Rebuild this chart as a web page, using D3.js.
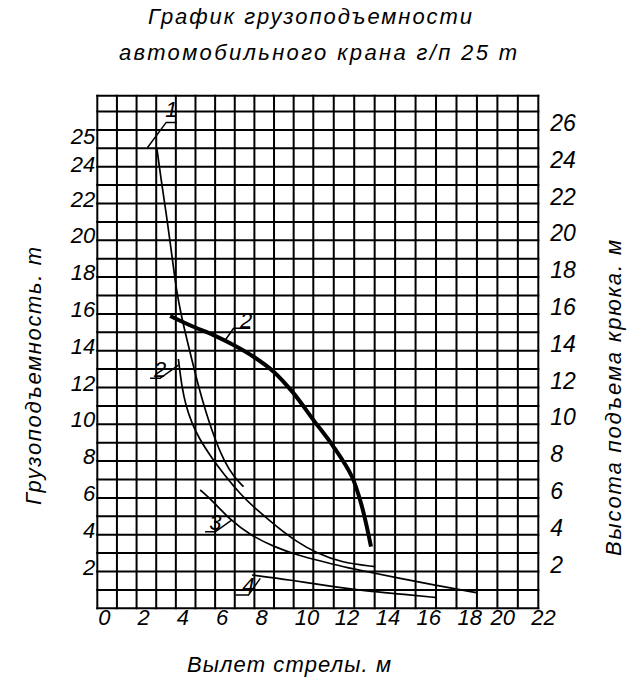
<!DOCTYPE html>
<html>
<head>
<meta charset="utf-8">
<script src="https://cdn.jsdelivr.net/npm/d3@7"></script>
<style>
  html, body { margin: 0; padding: 0; background: #fff; }
  svg { display: block; }
  text { font-family: "Liberation Sans", "DejaVu Sans", sans-serif; font-style: italic; fill: #000; }
</style>
</head>
<body>
<svg id="chart" width="636" height="685"></svg>
<script>
// ---------- data ----------
const titleLines = ["График грузоподъемности", "автомобильного крана г/п 25 т"];
const xTitle = "Вылет стрелы. м";
const yLeftTitle = "Грузоподъемность. т";
const yRightTitle = "Высота подъема крюка. м";

const xTicks = [0, 2, 4, 6, 8, 10, 12, 14, 16, 18, 20, 22];
const leftTicks = [2, 4, 6, 8, 10, 12, 14, 16, 18, 20, 22, 24, 25];
const rightTicks = [2, 4, 6, 8, 10, 12, 14, 16, 18, 20, 22, 24, 26];

const xMax = 22;
const yMax = 27.86;

// curve 1 – load capacity (thin)
const curve1 = [[3.03,25.03],[3.25,23.28],[3.51,21.47],[3.74,19.65],[3.96,17.84],[4.12,16.76],
  [4.33,15.67],[4.57,14.58],[4.82,13.49],[5.07,12.41],[5.35,11.32],[5.66,10.23],[6.01,9.15],
  [6.43,8.06],[6.94,7.15],[7.45,6.61]];
// curve 2 – load capacity (thin)
const curve2 = [[4.13,13.55],[4.18,13.10],[4.30,12.10],[4.50,11.05],[4.80,10.10],[5.20,9.20],
  [5.75,8.30],[6.43,7.30],[7.28,6.20],[8.13,5.34],[9.15,4.43],[10.17,3.60],[11.17,3.00],
  [12.32,2.50],[14.03,2.26]];
// curve 3 – load capacity (thin)
const curve3 = [[5.24,6.43],[5.92,5.79],[6.77,4.80],[7.79,3.98],[8.98,3.35],[10.17,2.90],
  [11.50,2.53],[12.81,2.17],[13.63,1.99],[15.25,1.63],[16.88,1.27],[18.97,0.85]];
// curve 4 – load capacity (thin)
const curve4 = [[7.88,1.81],[9.83,1.54],[11.99,1.17],[13.63,0.94],[15.25,0.78],[17.05,0.58]];
// hook height curve (thick)
const hookHeight = [[3.71,15.89],[4.90,15.30],[5.92,14.85],[6.94,14.31],[7.96,13.67],[8.98,12.86],
  [10.0,11.68],[11.01,10.23],[11.99,8.78],[12.89,7.15],[13.38,5.52],[13.82,3.35]];

// callouts: text, text anchor point, leader polyline
const calloutText = ["1", "2", "2", "3", "4"];
const calloutPos = [[4.08,26.68],[3.20,12.57],[7.58,15.23],[6.01,4.26],[7.69,0.83]];
const calloutLeader = [
  [[2.55,25.03],[3.51,26.41],[4.05,26.41]],
  [[2.69,12.50],[3.20,12.50],[4.13,13.22]],
  [[7.79,15.22],[6.94,15.22],[6.52,14.58]],
  [[5.49,4.16],[6.01,4.16],[6.86,4.80]],
  [[7.03,0.72],[7.70,0.72],[8.30,1.63]]
];
const calloutAnchor = ["end", "middle", "middle", "middle", "middle"];

// ---------- scales ----------
const svg = d3.select("#chart");
const x = d3.scaleLinear().domain([0, 11, xMax]).range([97.3, 313.3, 538.3]);
const y = d3.scaleLinear().domain([0, yMax]).range([608.3, 95.7]);

// ---------- grid ----------
const grid = svg.append("g").attr("stroke", "#000").attr("stroke-width", 2);
const hLines = d3.range(0, Math.floor(yMax) + 1).concat([yMax]);
const vLines = d3.range(0, xMax + 1);
grid.selectAll("line.h").data(hLines).join("line").attr("class", "h")
  .attr("x1", x(0) - 1).attr("x2", x(xMax) + 1)
  .attr("y1", d => y(d)).attr("y2", d => y(d));
grid.selectAll("line.v").data(vLines).join("line").attr("class", "v")
  .attr("y1", y(0) + 1).attr("y2", y(yMax) - 1)
  .attr("x1", d => x(d)).attr("x2", d => x(d));

// ---------- curves ----------
const line = d3.line().x(d => x(d[0])).y(d => y(d[1])).curve(d3.curveBasis);
const thinCurves = [curve1, curve2, curve3, curve4];
svg.append("g").selectAll("path").data(thinCurves).join("path")
  .attr("d", line).attr("fill", "none").attr("stroke", "#000").attr("stroke-width", 1.7);
svg.append("path").datum(hookHeight)
  .attr("d", d3.line().x(d => x(d[0])).y(d => y(d[1])).curve(d3.curveCatmullRom.alpha(0.5)))
  .attr("fill", "none").attr("stroke", "#000").attr("stroke-width", 4).attr("stroke-linecap", "butt");

// ---------- callouts ----------
const leaderLine = d3.line().x(d => x(d[0])).y(d => y(d[1]));
svg.append("g").selectAll("path").data(calloutLeader).join("path")
  .attr("d", leaderLine).attr("fill", "none").attr("stroke", "#000").attr("stroke-width", 1.5);
svg.append("g").selectAll("text").data(calloutText).join("text")
  .attr("x", (d, i) => x(calloutPos[i][0]))
  .attr("y", (d, i) => y(calloutPos[i][1]))
  .attr("text-anchor", (d, i) => calloutAnchor[i])
  .attr("font-size", 22)
  .text(d => d);

// ---------- tick labels ----------
svg.append("g").selectAll("text").data(leftTicks).join("text")
  .attr("x", x(0) - 2)
  .attr("y", d => y(d) + (d === 25 ? -4 : d === 24 ? 5 : 3))
  .attr("text-anchor", "end").attr("font-size", 22)
  .text(d => d);
svg.append("g").selectAll("text").data(rightTicks).join("text")
  .attr("x", x(xMax) + 12)
  .attr("y", d => y(d) + 1)
  .attr("text-anchor", "start").attr("font-size", 23)
  .text(d => d);
svg.append("g").selectAll("text").data(xTicks).join("text")
  .attr("x", d => x(d) + (d >= 20 ? -7 : 1))
  .attr("y", y(0) + 17)
  .attr("text-anchor", "start").attr("font-size", 22)
  .text(d => d);

// ---------- titles ----------
const titleGeom = [{cx: 310, y: 24, len: 324}, {cx: 318, y: 60, len: 398}];
svg.append("g").selectAll("text").data(titleLines).join("text")
  .attr("x", (d, i) => titleGeom[i].cx)
  .attr("y", (d, i) => titleGeom[i].y)
  .attr("text-anchor", "middle").attr("font-size", 22)
  .attr("textLength", (d, i) => titleGeom[i].len).attr("lengthAdjust", "spacing")
  .text(d => d);

svg.append("text").attr("x", 289).attr("y", 672).attr("text-anchor", "middle")
  .attr("font-size", 22).attr("textLength", 204).attr("lengthAdjust", "spacing")
  .text(xTitle);

svg.append("text").attr("transform", "translate(41,376) rotate(-90)")
  .attr("text-anchor", "middle").attr("font-size", 22)
  .attr("textLength", 258).attr("lengthAdjust", "spacing")
  .text(yLeftTitle);

svg.append("text").attr("transform", "translate(621,398) rotate(-90)")
  .attr("text-anchor", "middle").attr("font-size", 22)
  .attr("textLength", 316).attr("lengthAdjust", "spacing")
  .text(yRightTitle);
</script>
</body>
</html>
